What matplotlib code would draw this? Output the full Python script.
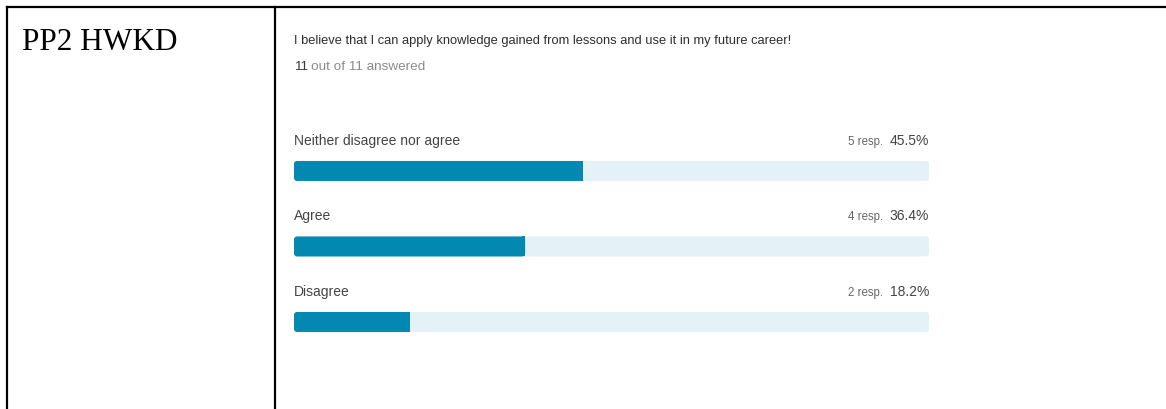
import matplotlib
matplotlib.use("Agg")
import matplotlib.pyplot as plt
from matplotlib.lines import Line2D
from matplotlib.patches import FancyBboxPatch, Rectangle

question = "I believe that I can apply knowledge gained from lessons and use it in my future career!"
answered = 11
total = 11
answers = ["Neither disagree nor agree", "Agree", "Disagree"]
responses = [5, 4, 2]
percents = [45.5, 36.4, 18.2]

FILL = "#0388b1"
TRACK = "#e4f1f6"

plt.rcParams["font.family"] = ["Liberation Sans", "DejaVu Sans"]

fig = plt.figure(figsize=(11.66, 4.09), dpi=100)
W, H = 1166, 409

# table frame around the two cells
lw = 1.6
fig.add_artist(Line2D([7 / W, 1], [1 - 7 / H, 1 - 7 / H], color="black", lw=lw))
fig.add_artist(Line2D([7 / W, 7 / W], [0, 1 - 7 / H], color="black", lw=lw))
fig.add_artist(Line2D([275 / W, 275 / W], [0, 1 - 7 / H], color="black", lw=lw))

fig.text(22 / W, 1 - 50 / H, "PP2 HWKD", family="Liberation Serif", fontsize=22.5,
         color="black", va="baseline", ha="left")

# header: question and answered count
fig.text(294 / W, 1 - 44 / H, question, fontsize=9.3, color="#2e2e2e", va="baseline")
t = fig.text(294 / W, 1 - 70 / H, str(answered), fontsize=9.7, color="#3a3a3a", va="baseline")
fig.canvas.draw()
bb = t.get_window_extent()
fig.text((bb.x1 + 3) / W, 1 - 70 / H, f"out of {total} answered", fontsize=9.7,
         color="#8a8a8a", va="baseline")

# bar panel: 0-100 %, one row per answer
ax = fig.add_axes([294 / W, 64 / H, 635 / W, 225 / H])
ax.set_xlim(0, 100)
ax.set_ylim(2.305, -0.675)
ax.axis("off")

bar_h = 0.265
rx = 0.5
aspect = (3 / 75.5) / rx
for i, (name, n, p) in enumerate(zip(answers, responses, percents)):
    y0 = i - bar_h / 2
    ax.add_patch(FancyBboxPatch((0, y0), 100, bar_h,
                                boxstyle=f"round,pad=0,rounding_size={rx}",
                                mutation_aspect=aspect, fc=TRACK, ec="none"))
    ax.add_patch(FancyBboxPatch((0, y0), p, bar_h,
                                boxstyle=f"round,pad=0,rounding_size={rx}",
                                mutation_aspect=aspect, fc=FILL, ec="none"))
    # square off the right end of the filled part
    ax.add_patch(Rectangle((p - rx, y0), rx, bar_h, fc=FILL, ec="none"))

    ly = i - 0.344
    ax.text(0, ly, name, fontsize=10, color="#444444", va="baseline", ha="left")
    pt = ax.text(100, ly, f"{p:.1f}%", fontsize=10, color="#444444",
                 va="baseline", ha="right")
    fig.canvas.draw()
    pb = pt.get_window_extent()
    x_left = ax.transData.inverted().transform((pb.x0 - 7, 0))[0]
    ax.text(x_left, ly, f"{n} resp.", fontsize=8.3, color="#666666",
            va="baseline", ha="right")

fig.savefig("out.png", dpi=100, facecolor="white")
